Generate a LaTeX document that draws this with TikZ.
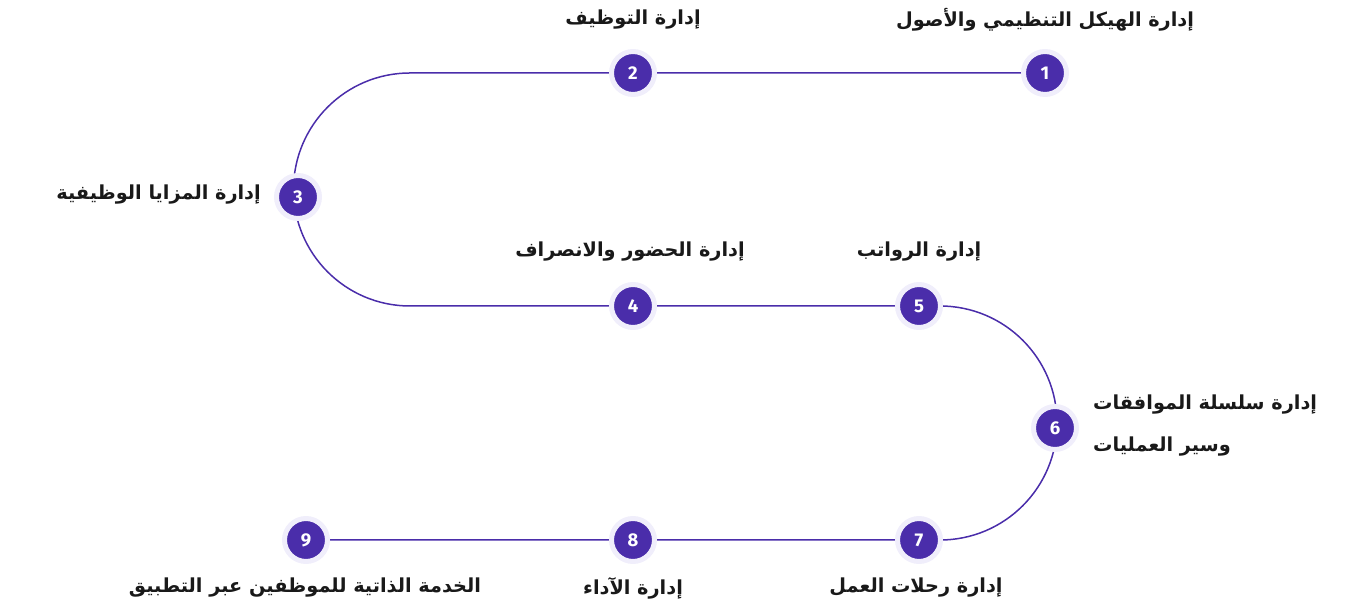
\documentclass[tikz,border=0pt]{standalone}
\usepackage{fontspec}
\TeXXeTstate=1
\newfontfamily\arabicfont[Script=Arabic]{DejaVu Sans}
\newfontfamily\numfont{Fira Sans}
\definecolor{mainpurple}{HTML}{4A2DAA}
\definecolor{halo}{HTML}{F0EEFB}
\usetikzlibrary{backgrounds}
\begin{document}
\begin{tikzpicture}[x=1pt,y=1pt,
  stepnode/.style={circle,fill=mainpurple,draw=halo,line width=5pt,minimum size=43pt,inner sep=0pt,
    text=white,font=\numfont\bfseries\fontsize{18.5}{18.5}\selectfont},
  lab/.style={font=\arabicfont\bfseries\fontsize{19.3}{22}\selectfont,text=black!90,inner sep=0pt},
  conn/.style={draw=mainpurple,line width=1.5pt}]
\useasboundingbox (0,0) rectangle (1352,612);
\node[stepnode] (n1) at (1045,539) {1};
\node[stepnode] (n2) at (633,539) {2};
\node[stepnode] (n3) at (298,415) {3};
\node[stepnode] (n4) at (633,306) {4};
\node[stepnode] (n5) at (919,306) {5};
\node[stepnode] (n6) at (1055,184) {6};
\node[stepnode] (n7) at (919,72) {7};
\node[stepnode] (n8) at (633,72) {8};
\node[stepnode] (n9) at (306,72) {9};
\coordinate (a1) at (410,539);
\coordinate (a2) at (940,306);
\begin{scope}[on background layer]
\draw[conn] (n1) -- (n2) -- (a1) arc[start angle=90,end angle=270,radius=116.5] -- (n4) -- (n5);
\draw[conn] (n5) -- (a2) arc[start angle=90,end angle=-90,radius=117] -- (n8) -- (n9);
\end{scope}
\node[lab] (l1) at (1045,592) {\beginR إدارة الهيكل التنظيمي والأصول\endR};
\node[lab] (l2) at (633,592) {\beginR إدارة التوظيف\endR};
\node[lab,anchor=east] (l3) at (261,417) {\beginR إدارة المزايا الوظيفية\endR};
\node[lab] (l4) at (630,360) {\beginR إدارة الحضور والانصراف\endR};
\node[lab] (l5) at (919,360) {\beginR إدارة الرواتب\endR};
\node[lab,anchor=west,align=left,font=\arabicfont\bfseries\fontsize{19.3}{42}\selectfont] (l6) at (1093,186) {\beginR إدارة سلسلة الموافقات\endR\\\beginR وسير العمليات\endR};
\node[lab] (l7) at (916,24) {\beginR إدارة رحلات العمل\endR};
\node[lab] (l8) at (633,24) {\beginR إدارة الآداء\endR};
\node[lab] (l9) at (305,24) {\beginR الخدمة الذاتية للموظفين عبر التطبيق\endR};
\end{tikzpicture}
\end{document}
